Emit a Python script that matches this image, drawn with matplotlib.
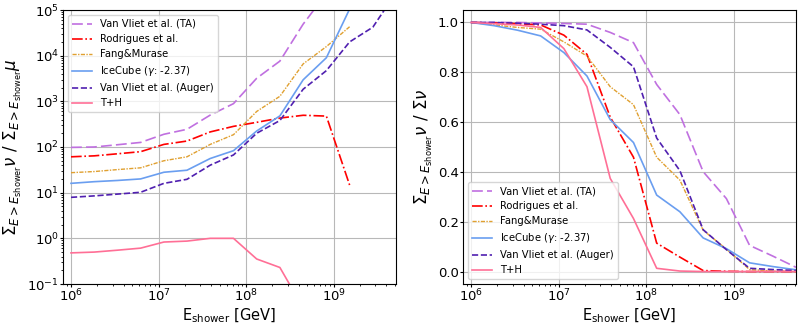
import numpy as np
import matplotlib
matplotlib.use('Agg')
import matplotlib.pyplot as plt

# shower energy bins [GeV]
energias = [1.0e6, 1.84e6, 3.39e6, 6.24e6, 1.15e7, 2.11e7, 3.89e7, 7.17e7,
            1.32e8, 2.43e8, 4.48e8, 8.25e8, 1.52e9, 2.80e9, 5.15e9]

etiquetas = ['Van Vliet et al. (TA)', 'Rodrigues et al.', 'Fang&Murase',
             'IceCube ($\\gamma$: -2.37)', 'Van Vliet et al. (Auger)', 'T+H']

nan = np.nan
# ratio nu / mu above E_shower
ratio_ta = [98, 100, 112, 126, 190, 244, 500, 890, 3200, 7600, 49000, 2.3e5, 8e5, 2e6, 5e6]
ratio_rodrigues = [61, 64, 71, 79, 114, 135, 214, 283, 347, 430, 495, 475, 14.7, nan, nan]
ratio_fang = [27.4, 29, 32, 35, 50, 61, 114, 186, 600, 1290, 6600, 15800, 43000, nan, nan]
ratio_icecube = [16, 17.4, 18.5, 20, 28, 31, 56, 83, 224, 480, 2960, 9000, 1.05e5, 4e5, nan]
ratio_auger = [7.9, 8.5, 9.3, 10.2, 16, 19.6, 40, 67, 200, 380, 1840, 4700, 20000, 42000, 2.4e5]
ratio_th = [0.48, 0.50, 0.55, 0.61, 0.83, 0.87, 1.0, 1.0, 0.353, 0.23, 0.03, nan, nan, nan, nan]

# fraction of nu above E_shower
frac_ta = [1.0, 1.0, 1.0, 0.998, 0.996, 0.993, 0.96, 0.919, 0.751, 0.63, 0.401, 0.293, 0.105, 0.062, 0.017]
frac_rodrigues = [1.0, 0.998, 0.995, 0.99, 0.949, 0.872, 0.62, 0.459, 0.114, 0.058, 0.004, 0.001, 0.0, 0.0, 0.0]
frac_fang = [1.0, 0.99, 0.98, 0.973, 0.922, 0.865, 0.742, 0.67, 0.459, 0.367, 0.166, 0.09, 0.008, 0.002, 0.0]
frac_icecube = [1.0, 0.987, 0.969, 0.946, 0.879, 0.785, 0.61, 0.518, 0.307, 0.24, 0.135, 0.092, 0.035, 0.02, 0.007]
frac_auger = [1.0, 1.0, 0.997, 0.993, 0.987, 0.97, 0.90, 0.822, 0.536, 0.405, 0.168, 0.088, 0.013, 0.008, 0.004]
frac_th = [1.0, 0.995, 0.99, 0.98, 0.895, 0.742, 0.374, 0.213, 0.013, 0.002, 0.0, 0.0, 0.0, 0.0, 0.0]

ticks_ratio = [1e-1, 1e0, 1e1, 1e2, 1e3, 1e4, 1e5]
ticks_frac = [0.0, 0.2, 0.4, 0.6, 0.8, 1.0]

estilos = [
    dict(color='#c070e0', dashes=(6.5, 2.5), lw=1.2),
    dict(color='red', linestyle='-.', lw=1.2),
    dict(color='#e0a030', linestyle=(0, (3, 1, 1, 1)), lw=1.0),
    dict(color='#6a9ef0', linestyle='-', lw=1.2),
    dict(color='#5020b0', linestyle='--', lw=1.2),
    dict(color='#ff6f96', linestyle='-', lw=1.2),
]

ylabel_mu = '$\\Sigma_{E>E_{\\mathrm{shower}}}\\nu$ / $\\Sigma_{E>E_{\\mathrm{shower}}}\\mu$'
ylabel_nu = '$\\Sigma_{E>E_{\\mathrm{shower}}}\\nu$ / $\\Sigma\\nu$'
xlabel = 'E$_{\\mathrm{shower}}$ [GeV]'


def pintar(ax, series, ylabel, loc):
    for datos, etiqueta, estilo in zip(series, etiquetas, estilos):
        ax.plot(energias, datos, label=etiqueta, **estilo)
    ax.set_xscale('log')
    ax.set_xlim(8.1e5, 5.15e9)
    ax.set_xticks([1e6, 1e7, 1e8, 1e9])
    ax.grid(True, color='#b8b8b8', linewidth=0.8)
    ax.set_xlabel(xlabel, fontsize=10.5, labelpad=1)
    ax.set_ylabel(ylabel, fontsize=12, labelpad=2)
    ax.tick_params(labelsize=9.5, pad=1, length=2)
    ax.tick_params(which='minor', length=1.5)
    ax.legend(loc=loc, fontsize=7.2)


fig = plt.figure(figsize=(8.01, 3.27), dpi=100)
ax1 = fig.add_axes([63 / 801, 1 - 284 / 327, 333 / 801, 274 / 327])
ax2 = fig.add_axes([463 / 801, 1 - 284 / 327, 333 / 801, 274 / 327])

pintar(ax1, [ratio_ta, ratio_rodrigues, ratio_fang, ratio_icecube, ratio_auger, ratio_th],
       ylabel_mu, 'upper left')
ax1.set_yscale('log')
ax1.set_yticks(ticks_ratio)
ax1.set_ylim(0.1, 1e5)

pintar(ax2, [frac_ta, frac_rodrigues, frac_fang, frac_icecube, frac_auger, frac_th],
       ylabel_nu, 'lower left')
ax2.set_yticks(ticks_frac)

fig.savefig('out.png', dpi=100)
